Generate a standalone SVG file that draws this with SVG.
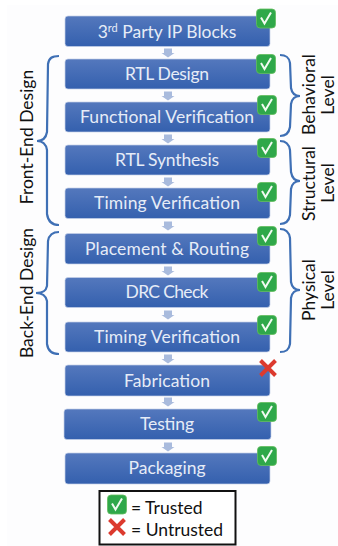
<svg xmlns="http://www.w3.org/2000/svg" width="338" height="546" viewBox="0 0 338 546">
<defs>
<linearGradient id="g" x1="0" y1="0" x2="0" y2="1"><stop offset="0" stop-color="#5478bd"/><stop offset="1" stop-color="#3460ae"/></linearGradient>
<g id="chk"><rect x="-9.5" y="-9.5" width="19" height="19" rx="3.5" fill="#2fa84a" stroke="#63bd5e" stroke-width="0.8"/><path d="M-5 -1 L-1.5 5 L5 -6" fill="none" stroke="#f2fbf2" stroke-width="2"/></g>
<g id="x"><path d="M-7.5 -7.5 L7.5 7.5 M7.5 -7.5 L-7.5 7.5" fill="none" stroke="#dc3a2e" stroke-width="4"/></g>
<path id="ar" d="M-4 -4.500 H4 V0 H6.500 L0 4.500 L-6.500 0 H-4 Z" fill="#a9bbdd"/>
</defs>
<style>
.n{fill:url(#g);stroke:#c4d0e8;stroke-width:.7}
.t{font-family:Lato,"Open Sans",sans-serif;font-size:17.5px;fill:#e6ecf7;text-anchor:middle}
.s{font-family:Lato,"Open Sans",sans-serif;font-size:17.5px;fill:#111;text-anchor:middle}
.b{fill:none;stroke:#3f70b5;stroke-width:2.2}
</style>
<rect width="338" height="546" fill="#fff"/>
<rect x="7" y="5" width="331" height="541" fill="#fdfdfe"/>
<g id="connectors">
<use href="#ar" x="168" y="53"/><use href="#ar" x="168" y="96"/><use href="#ar" x="168" y="139"/><use href="#ar" x="168" y="182"/><use href="#ar" x="168" y="226"/><use href="#ar" x="168" y="271"/><use href="#ar" x="168" y="315"/><use href="#ar" x="168" y="359"/><use href="#ar" x="168" y="402"/><use href="#ar" x="168" y="447"/>
</g>
<g id="n1"><rect class="n" x="65" y="16" width="205" height="30.500" rx="3"/><text class="t" x="167" y="38">3<tspan font-size="11" dy="-6">rd</tspan><tspan dy="6"> Party IP Blocks</tspan></text><use href="#chk" x="266" y="18.500"/></g>
<g id="n2"><rect class="n" x="65" y="59" width="205" height="30" rx="3"/><text class="t" x="167" y="80" textLength="84">RTL Design</text><use href="#chk" x="266" y="64"/></g>
<g id="n3"><rect class="n" x="65" y="102" width="205" height="30" rx="3"/><text class="t" x="167" y="123" textLength="174">Functional Verification</text><use href="#chk" x="267" y="105"/></g>
<g id="n4"><rect class="n" x="65" y="145" width="205" height="30" rx="3"/><text class="t" x="167" y="166" textLength="104">RTL Synthesis</text><use href="#chk" x="267" y="148"/></g>
<g id="n5"><rect class="n" x="65" y="188" width="205" height="30.500" rx="3"/><text class="t" x="167" y="209" textLength="146">Timing Verification</text><use href="#chk" x="267" y="192"/></g>
<g id="n6"><rect class="n" x="65" y="233.500" width="205" height="30.500" rx="3"/><text class="t" x="167" y="255" textLength="164">Placement &amp; Routing</text><use href="#chk" x="267" y="236"/></g>
<g id="n7"><rect class="n" x="65" y="277.500" width="205" height="30" rx="3"/><text class="t" x="167" y="298" textLength="83">DRC Check</text><use href="#chk" x="267" y="282"/></g>
<g id="n8"><rect class="n" x="65" y="322" width="205" height="30" rx="3"/><text class="t" x="167" y="343" textLength="146">Timing Verification</text><use href="#chk" x="267" y="325"/></g>
<g id="n9"><rect class="n" x="65" y="365" width="205" height="31" rx="3"/><text class="t" x="167" y="387" textLength="86">Fabrication</text><use href="#x" x="268" y="368"/></g>
<g id="n10"><rect class="n" x="64" y="409" width="207" height="30.500" rx="3"/><text class="t" x="167" y="430" textLength="54">Testing</text><use href="#chk" x="267" y="412"/></g>
<g id="n11"><rect class="n" x="65" y="453" width="205" height="31" rx="3"/><text class="t" x="167" y="474" textLength="77">Packaging</text><use href="#chk" x="267" y="456"/></g>
<g id="left-braces">
<path class="b" d="M59 56 C52 56 49 58 48 64 L47 132 C46 138 43 141 37 141 C43 141 46 144 47 150 L47 214 C48 221 52 225 59 225"/>
<path class="b" d="M59 232 C52 232 49 235 48 241 L47 286 C46 291 43 293 36 293 C43 293 46 296 47 301 L47 344 C48 351 52 354 59 354"/>
<text class="s" transform="translate(33 137) rotate(-90)">Front-End Design</text>
<text class="s" transform="translate(33 293) rotate(-90)">Back-End Design</text>
</g>
<g id="right-braces">
<path class="b" d="M280 55 C286 55 289 57 290 63 L291 88 C292 94 295 96 300 96 C295 96 292 98 291 104 L290 127 C289 133 286 136 280 136"/>
<path class="b" d="M280 141 C286 141 289 144 290 150 L291 172 C292 178 295 181 300 181 C295 181 292 183 291 189 L290 215 C289 221 286 224 280 224"/>
<path class="b" d="M280 229 C286 229 289 232 290 238 L291 282 C292 288 295 290 300 290 C295 290 292 292 291 298 L290 344 C289 350 286 352 280 352"/>
<text class="s" transform="translate(315 94.500) rotate(-90)">Behavioral</text>
<text class="s" transform="translate(334 95) rotate(-90)">Level</text>
<text class="s" transform="translate(315 183.500) rotate(-90)">Structural</text>
<text class="s" transform="translate(334 183) rotate(-90)">Level</text>
<text class="s" transform="translate(315 290) rotate(-90)">Physical</text>
<text class="s" transform="translate(334 290) rotate(-90)">Level</text>
</g>
<g id="legend">
<rect x="99.500" y="491" width="136" height="53.500" fill="#fff" stroke="#111" stroke-width="2"/>
<use href="#chk" x="117" y="504.500"/><use href="#x" x="117" y="527"/>
<text class="s" x="131" y="514" style="text-anchor:start">= Trusted</text>
<text class="s" x="131" y="536" style="text-anchor:start">= Untrusted</text>
</g>
</svg>
